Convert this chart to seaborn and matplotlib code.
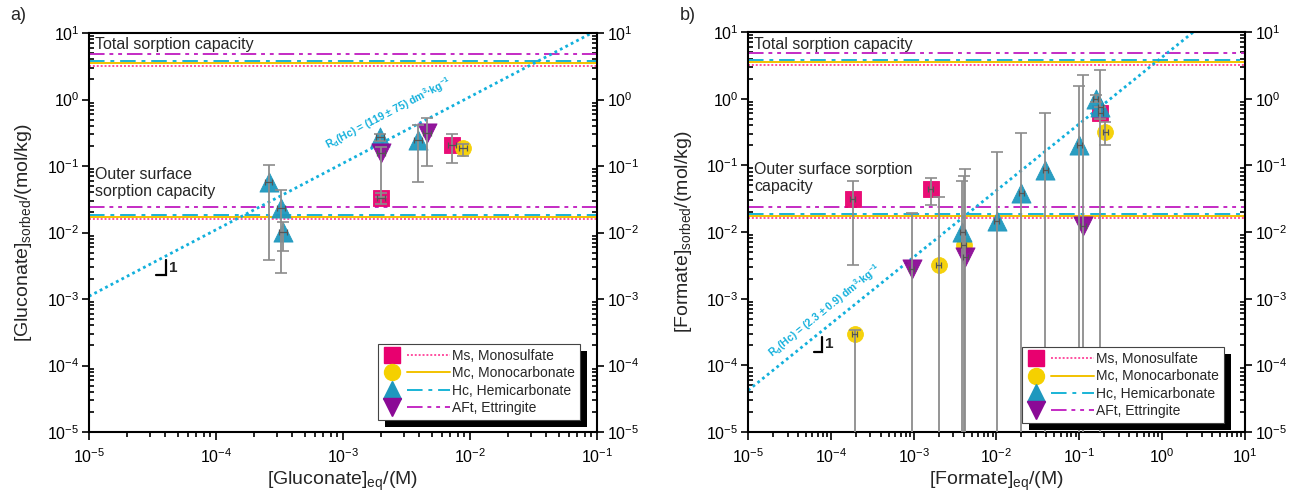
import numpy as np
import pandas as pd
import matplotlib
matplotlib.use("Agg")
import matplotlib.pyplot as plt
import seaborn as sns
from matplotlib.lines import Line2D
from matplotlib.patches import Rectangle
from matplotlib import ticker

sns.set_theme(style="ticks")
plt.rcParams['font.family'] = ['Liberation Sans', 'DejaVu Sans']
plt.rcParams['mathtext.fontset'] = 'custom'
plt.rcParams['mathtext.rm'] = 'Liberation Sans'
plt.rcParams['mathtext.it'] = 'Liberation Sans:italic'
plt.rcParams['mathtext.bf'] = 'Liberation Sans:bold'
plt.rcParams['mathtext.default'] = 'regular'

BELOW = 1e-7  # lower bound below the plotted range

# ---------------- Panel a: Gluconate ----------------
glu_ms_x = [2.0e-3, 7.2e-3]
glu_ms_y = [0.033, 0.21]
glu_ms_lo = [0.027, 0.11]
glu_ms_hi = [0.039, 0.30]

glu_mc_x = [8.8e-3]
glu_mc_y = [0.185]
glu_mc_lo = [0.14]
glu_mc_hi = [0.215]

glu_hc_x = [2.6e-4, 3.25e-4, 3.4e-4, 1.95e-3, 3.9e-3]
glu_hc_y = [0.058, 0.023, 0.0103, 0.27, 0.25]
glu_hc_lo = [0.0038, 0.0025, 0.0052, 0.24, 0.058]
glu_hc_hi = [0.105, 0.043, 0.0145, 0.30, 0.42]

glu_aft_x = [2.0e-3, 4.6e-3]
glu_aft_y = [0.155, 0.31]
glu_aft_lo = [0.034, 0.10]
glu_aft_hi = [0.19, 0.52]

glu_rd_line = 110.0   # drawn slope line y = Rd * x
glu_rd_label = r"R$_\mathbf{d}$(Hc) = (119 ± 75) dm$^\mathbf{3}$·kg$^\mathbf{-1}$"

# ---------------- Panel b: Formate ----------------
for_ms_x = [1.85e-4, 1.6e-3, 0.18]
for_ms_y = [0.031, 0.044, 0.62]
for_ms_lo = [3.2e-3, 0.025, 0.50]
for_ms_hi = [0.058, 0.064, 0.75]

for_mc_x = [1.95e-4, 2.0e-3, 4.0e-3, 0.205]
for_mc_y = [3.0e-4, 3.2e-3, 6.3e-3, 0.32]
for_mc_lo = [BELOW, BELOW, BELOW, 0.20]
for_mc_hi = [3.4e-4, 0.033, 0.068, 0.44]

for_hc_x = [3.85e-3, 0.0101, 0.020, 0.039, 0.10, 0.157, 0.18]
for_hc_y = [0.0099, 0.0148, 0.038, 0.085, 0.20, 1.0, 0.74]
for_hc_lo = [BELOW, BELOW, BELOW, BELOW, BELOW, 0.88, BELOW]
for_hc_hi = [0.059, 0.16, 0.31, 0.61, 1.55, 1.12, 2.7]

for_aft_x = [9.5e-4, 4.2e-3, 0.111]
for_aft_y = [2.8e-3, 4.2e-3, 0.0125]
for_aft_lo = [BELOW, BELOW, BELOW]
for_aft_hi = [0.019, 0.088, 2.3]

for_rd_line = 4.2
for_rd_label = r"R$_\mathbf{d}$(Hc) = (2.3 ± 0.9) dm$^\mathbf{3}$·kg$^\mathbf{-1}$"

x_rel_err = 0.07

# tick decades
y_decades = [-5, -4, -3, -2, -1, 0, 1]
xa_decades = [-5, -4, -3, -2, -1]
xb_decades = [-5, -4, -3, -2, -1, 0, 1]

# capacities (same in both panels)
phases = ["Ms", "Mc", "Hc", "AFt"]
legend_labels = ["Ms, Monosulfate", "Mc, Monocarbonate", "Hc, Hemicarbonate", "AFt, Ettringite"]
total_capacity = [3.2, 3.55, 3.8, 4.8]
outer_capacity = [0.016, 0.0172, 0.0185, 0.024]

marker_colors = {"Ms": "#E8006F", "Mc": "#F5D000", "Hc": "#1E98BE", "AFt": "#8B0A96"}
marker_shapes = {"Ms": "s", "Mc": "o", "Hc": "^", "AFt": "v"}
marker_sizes = {"Ms": 120, "Mc": 130, "Hc": 190, "AFt": 190}
line_colors = {"Ms": "#FF4FA0", "Mc": "#F2C200", "Hc": "#19B4D6", "AFt": "#C42BC4"}
line_styles = {"Ms": (0, (1, 1)), "Mc": "-", "Hc": (0, (8, 3, 2, 3)),
               "AFt": (0, (8, 2.5, 2, 2.5, 2, 2.5))}
rd_color = "#12B0DC"


class MarkerLineHandler:
    def legend_artist(self, legend, orig_handle, fontsize, handlebox):
        mk, ln = orig_handle
        x0, y0 = handlebox.xdescent, handlebox.ydescent
        w, h = handlebox.width, handlebox.height
        m = Line2D([x0 + 0.14 * w], [y0 + h / 2])
        m.update_from(mk)
        m.set_transform(handlebox.get_transform())
        l = Line2D([x0 + 0.36 * w, x0 + w], [y0 + h / 2, y0 + h / 2])
        l.update_from(ln)
        l.set_transform(handlebox.get_transform())
        handlebox.add_artist(l)
        handlebox.add_artist(m)
        return m


W, H = 1290, 495
fig = plt.figure(figsize=(W / 100, H / 100), dpi=100)


def px_axes(left, top, right, bottom):
    return fig.add_axes([left / W, 1 - bottom / H, (right - left) / W, (bottom - top) / H])


def log_minor(decades):
    return [m * 10.0 ** d for d in decades[:-1] for m in range(2, 10)]


def draw_panel(ax, series, xlim, x_decades, rd, rd_text, rd_pos, xlabel, ylabel,
               outer_text, outer_y, slope_mark, leg_anchor):
    ax.set_xscale("log")
    ax.set_yscale("log")
    ax.set_xlim(*xlim)
    ax.set_ylim(1e-5, 10)

    for p, tc, oc in zip(phases, total_capacity, outer_capacity):
        ax.axhline(tc, color=line_colors[p], ls=line_styles[p], lw=1.4, zorder=1)
        ax.axhline(oc, color=line_colors[p], ls=line_styles[p], lw=1.4, zorder=1)

    xs_line = np.array(xlim)
    ax.plot(xs_line, rd * xs_line, color=rd_color, ls=(0, (1, 1.2)), lw=2.0, zorder=2)

    for p in phases:
        x, y, lo, hi = series[p]
        df = pd.DataFrame({"x": x, "y": y})
        sns.scatterplot(data=df, x="x", y="y", marker=marker_shapes[p], s=marker_sizes[p],
                        color=marker_colors[p], edgecolor=marker_colors[p], linewidth=0.6,
                        alpha=0.95, ax=ax, zorder=3, legend=False)
        y = np.array(y); x = np.array(x)
        yerr = np.vstack([y - np.array(lo), np.array(hi) - y])
        ax.errorbar(x, y, yerr=yerr, fmt="none", ecolor="#8c8c8c", elinewidth=1.3,
                    capsize=4, capthick=1.2, zorder=4)
        ax.errorbar(x, y, xerr=x * x_rel_err, fmt="none", ecolor="#555555", elinewidth=0.9,
                    capsize=2.5, capthick=0.9, zorder=5)

    # Rd label rotated along the line
    p1 = ax.transData.transform((1e-4, rd * 1e-4))
    p2 = ax.transData.transform((1e-3, rd * 1e-3))
    ang = np.degrees(np.arctan2(p2[1] - p1[1], p2[0] - p1[0]))
    ax.text(rd_pos[0], rd_pos[1], rd_text, rotation=ang, rotation_mode="anchor",
            ha="center", va="center", color=rd_color, fontsize=7.5, fontweight="bold",
            zorder=6)

    ax.text(0.012, 0.97, "Total sorption capacity", transform=ax.transAxes,
            fontsize=11.5, ha="left", va="center", zorder=6)
    ax.text(0.012, outer_y, outer_text, transform=ax.transAxes, fontsize=11.5,
            ha="left", va="center", linespacing=1.1, zorder=6)

    # slope indicator
    vx, vy0, vy1, hx0, tx, ty = slope_mark
    ax.plot([hx0, vx, vx], [vy0, vy0, vy1], color="black", lw=1.6,
            transform=ax.transAxes, zorder=6, solid_joinstyle="miter")
    ax.text(tx, ty, "1", transform=ax.transAxes, fontsize=11, fontweight="bold",
            ha="left", va="center", zorder=6)

    ax.set_xlabel(xlabel, fontsize=14)
    ax.set_ylabel(ylabel, fontsize=14)

    for s in ax.spines.values():
        s.set_linewidth(1.5)
        s.set_color("black")
        s.set_visible(True)
    ax.tick_params(axis="both", which="both", labelsize=11.5, colors="black", width=1.2)
    ax.tick_params(axis="x", which="major", direction="out", length=6, top=False, pad=5)
    ax.tick_params(axis="x", which="minor", direction="out", length=3.5, top=False)
    ax.tick_params(axis="y", which="major", direction="out", length=5,
                   left=True, right=True, labelleft=True, labelright=True, pad=2)
    ax.tick_params(axis="y", which="minor", direction="in", length=3.5,
                   left=True, right=True)
    ax.xaxis.set_major_locator(ticker.FixedLocator([10.0 ** d for d in x_decades]))
    ax.xaxis.set_minor_locator(ticker.FixedLocator(log_minor(x_decades)))
    ax.yaxis.set_major_locator(ticker.FixedLocator([10.0 ** d for d in y_decades]))
    ax.yaxis.set_minor_locator(ticker.FixedLocator(log_minor(y_decades)))
    ax.xaxis.set_major_formatter(ticker.LogFormatterSciNotation())
    ax.yaxis.set_major_formatter(ticker.LogFormatterSciNotation())
    ax.xaxis.set_minor_formatter(ticker.NullFormatter())
    ax.yaxis.set_minor_formatter(ticker.NullFormatter())
    ax.grid(False)

    handles = []
    for p in phases:
        mk = Line2D([], [], marker=marker_shapes[p], color=marker_colors[p], ls="none",
                    markersize=13 if p in ("Hc", "AFt") else 11.5)
        ln = Line2D([], [], color=line_colors[p], ls=line_styles[p], lw=1.4)
        handles.append((mk, ln))
    leg = ax.legend(handles, legend_labels, handler_map={tuple: MarkerLineHandler()},
                    loc="lower right", bbox_to_anchor=leg_anchor, borderaxespad=0,
                    fontsize=10, handlelength=4.8, handletextpad=0.2, labelspacing=0.25,
                    borderpad=0.35, fancybox=False, framealpha=1, edgecolor="#444444")
    leg.get_frame().set_linewidth(0.8)
    leg.set_zorder(10)
    return leg


ax_a = px_axes(89, 33, 597, 432)
ax_b = px_axes(748, 32, 1245, 432)

series_a = {"Ms": (glu_ms_x, glu_ms_y, glu_ms_lo, glu_ms_hi),
            "Mc": (glu_mc_x, glu_mc_y, glu_mc_lo, glu_mc_hi),
            "Hc": (glu_hc_x, glu_hc_y, glu_hc_lo, glu_hc_hi),
            "AFt": (glu_aft_x, glu_aft_y, glu_aft_lo, glu_aft_hi)}
series_b = {"Ms": (for_ms_x, for_ms_y, for_ms_lo, for_ms_hi),
            "Mc": (for_mc_x, for_mc_y, for_mc_lo, for_mc_hi),
            "Hc": (for_hc_x, for_hc_y, for_hc_lo, for_hc_hi),
            "AFt": (for_aft_x, for_aft_y, for_aft_lo, for_aft_hi)}

leg_a = draw_panel(ax_a, series_a, (1e-5, 1e-1), xa_decades, glu_rd_line, glu_rd_label,
                   (2.3e-3, 0.62),
                   r"[Gluconate]$_{eq}$/(M)", r"[Gluconate]$_{sorbed}$/(mol/kg)",
                   "Outer surface\nsorption capacity", 0.624,
                   (0.1525, 0.393, 0.431, 0.132, 0.157, 0.411), (0.967, 0.03))
leg_b = draw_panel(ax_b, series_b, (1e-5, 10), xb_decades, for_rd_line, for_rd_label,
                   (8.5e-5, 6.5e-4),
                   r"[Formate]$_{eq}$/(M)", r"[Formate]$_{sorbed}$/(mol/kg)",
                   "Outer surface sorption\ncapacity", 0.635,
                   (0.148, 0.2, 0.238, 0.132, 0.155, 0.219), (0.958, 0.022))

for ax in (ax_a, ax_b):
    ax.xaxis.set_label_coords(0.5, -0.095)
    ax.yaxis.set_label_coords(-0.108, 0.5)

fig.text(0.008, 0.968, "a)", fontsize=13, ha="left", va="center")
fig.text(0.527, 0.968, "b)", fontsize=13, ha="left", va="center")

# black drop shadow behind legends
fig.canvas.draw()
for ax, leg in ((ax_a, leg_a), (ax_b, leg_b)):
    bb = leg.get_window_extent().transformed(ax.transAxes.inverted())
    axbb = ax.get_window_extent()
    dx = 7 / axbb.width
    dy = 7 / axbb.height
    ax.add_patch(Rectangle((bb.x0 + dx, bb.y0 - dy), bb.width, bb.height,
                           transform=ax.transAxes, facecolor="black", edgecolor="none",
                           clip_on=False, zorder=9))

fig.savefig("out.png", dpi=100)
